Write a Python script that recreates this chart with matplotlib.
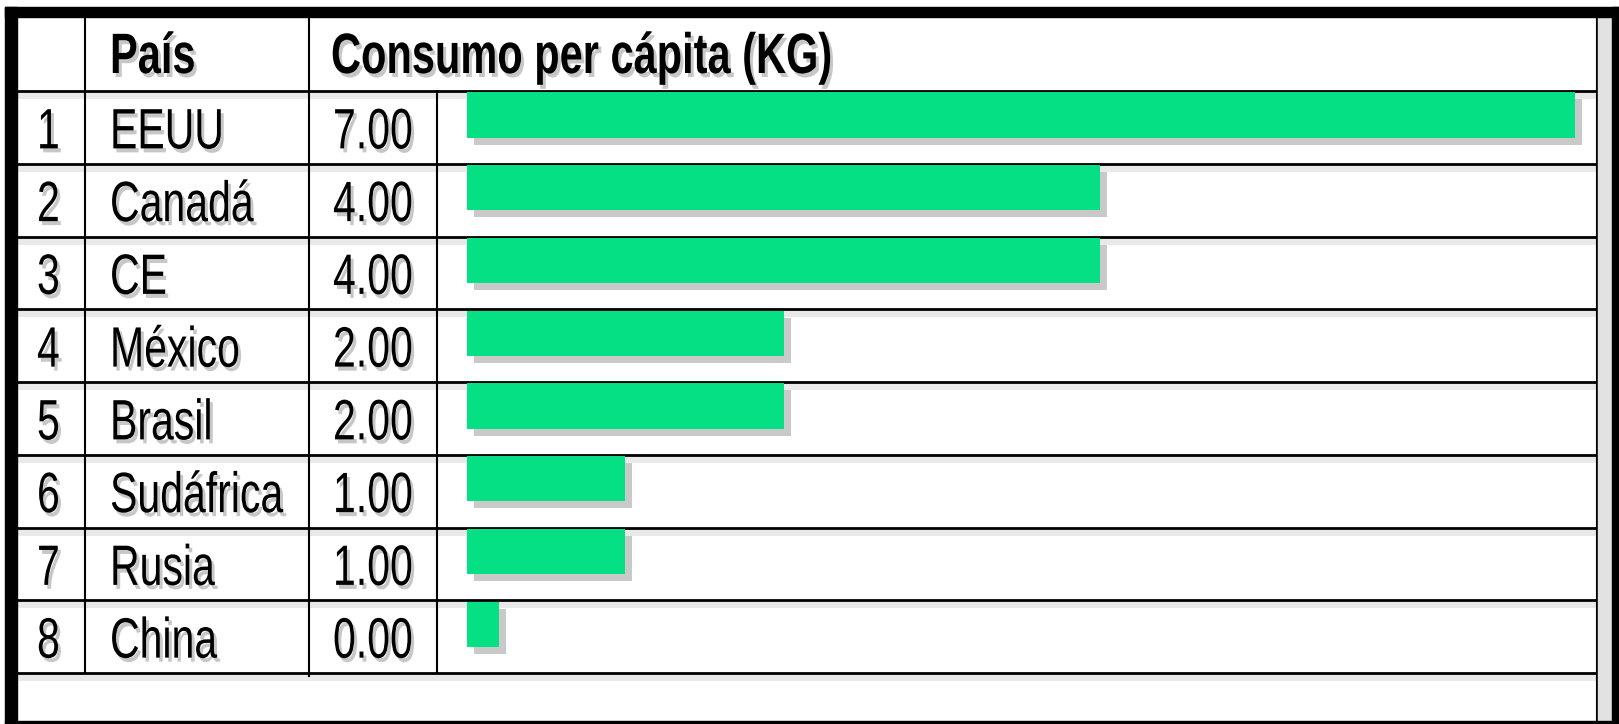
import numpy as np
import matplotlib
matplotlib.use("Agg")
import matplotlib.pyplot as plt
import matplotlib.patheffects as pe
from matplotlib.patches import Rectangle
from matplotlib.transforms import Affine2D

# datos de la tabla
rangos = [1, 2, 3, 4, 5, 6, 7, 8]
paises = ['EEUU', 'Canadá', 'CE', 'México', 'Brasil', 'Sudáfrica', 'Rusia', 'China']
consumo = [7.00, 4.00, 4.00, 2.00, 2.00, 1.00, 1.00, 0.00]
encabezados = ['País', 'Consumo per cápita (KG)']

plt.rcParams['font.family'] = ['Liberation Sans', 'DejaVu Sans']


class Angosta(pe.AbstractPathEffect):
    ''' letra alta y angosta (tipo Arial Narrow) con sombra gris '''
    def __init__(self, sy=1.39, off=(3, -4), sombra=(0.45, 0.45, 0.45), alpha=0.4):
        super().__init__()
        self.sy = sy
        self.off = off
        self.sombra = sombra
        self.alpha = alpha

    def draw_path(self, renderer, gc, tpath, affine, rgbFace=None):
        base = Affine2D().scale(1, self.sy) + affine
        gc0 = renderer.new_gc()
        gc0.copy_properties(gc)
        gc0.set_alpha(self.alpha)
        renderer.draw_path(gc0, tpath, base + Affine2D().translate(*self.off), self.sombra)
        gc0.restore()
        renderer.draw_path(gc, tpath, base, rgbFace)


W, H = 1619, 724
fig = plt.figure(figsize=(W / 100, H / 100), dpi=100)
ax = fig.add_axes([0, 0, 1, 1])
ax.set_xlim(0, W)
ax.set_ylim(H, 0)
ax.axis('off')

sombra_lin = [pe.SimpleLineShadow(offset=(0, -3), shadow_color='#aaaaaa', alpha=0.25, linewidth=5), pe.Normal()]

# filas
top, y_head = 17, 91
y_rows = np.linspace(91, 673, len(paises) + 1)
x_right = 1597

# marco exterior
ax.add_patch(Rectangle((5, 7), W - 5, 10, color='black', zorder=5))
ax.add_patch(Rectangle((5, 7), 12, H - 7, color='black', zorder=5))
ax.add_patch(Rectangle((1612, 7), 7, H - 7, color='black', zorder=5))
ax.add_patch(Rectangle((5, 721), W - 5, 3, color='black', zorder=5))
ax.add_patch(Rectangle((x_right + 1, 17), 1612 - x_right - 1, H - 17, color='#e2e2e2', zorder=4))

# lineas horizontales
for y in y_rows:
    ax.plot([17, x_right], [y, y], color='black', lw=2, path_effects=sombra_lin, zorder=3)

# lineas verticales
ax.plot([85, 85], [top, 673], color='black', lw=1.5, zorder=3)
ax.plot([309, 309], [top, 676], color='black', lw=1.5, zorder=3)
ax.plot([437, 437], [y_head, 673], color='black', lw=1.5, zorder=3)
ax.plot([x_right, x_right], [top, 721], color='black', lw=1.5, zorder=3)

# encabezado
fs_h, sx_h = 41, 0.73
fx_h = [Angosta(sy=1 / sx_h)]
ax.text(110, 73, encabezados[0], fontsize=fs_h * sx_h, fontweight='bold', va='baseline', ha='left', path_effects=fx_h)
ax.text(331, 73, encabezados[1], fontsize=fs_h * sx_h, fontweight='bold', va='baseline', ha='left', path_effects=fx_h)

# contenido
fs, sx = 41, 0.72
fx = [Angosta(sy=1 / sx)]
for i in range(len(paises)):
    yb = (y_rows[i] + y_rows[i + 1]) / 2 + 21
    ax.text(37, yb, str(rangos[i]), fontsize=fs * sx, va='baseline', ha='left', path_effects=fx)
    ax.text(110, yb, paises[i], fontsize=fs * sx, va='baseline', ha='left', path_effects=fx)
    ax.text(333, yb, f'{consumo[i]:.2f}', fontsize=fs * sx, va='baseline', ha='left', path_effects=fx)

# barras
x0, px_unidad = 467, 158.3
axb = fig.add_axes([x0 / W, 1 - 673 / H, (x_right - x0) / W, (673 - 91) / H])
axb.set_xlim(0, (x_right - x0) / px_unidad)
axb.set_ylim(len(paises), 0)
axb.axis('off')
largo = [max(v, 0.2) for v in consumo]
barras = axb.barh(np.arange(len(paises)) + 0.02, largo, height=0.62, align='edge', color='#05e084')
for b in barras:
    b.set_path_effects([pe.SimplePatchShadow(offset=(5, -5), shadow_rgbFace='#888888', alpha=0.45), pe.Normal()])

fig.savefig('out.png', dpi=100)
